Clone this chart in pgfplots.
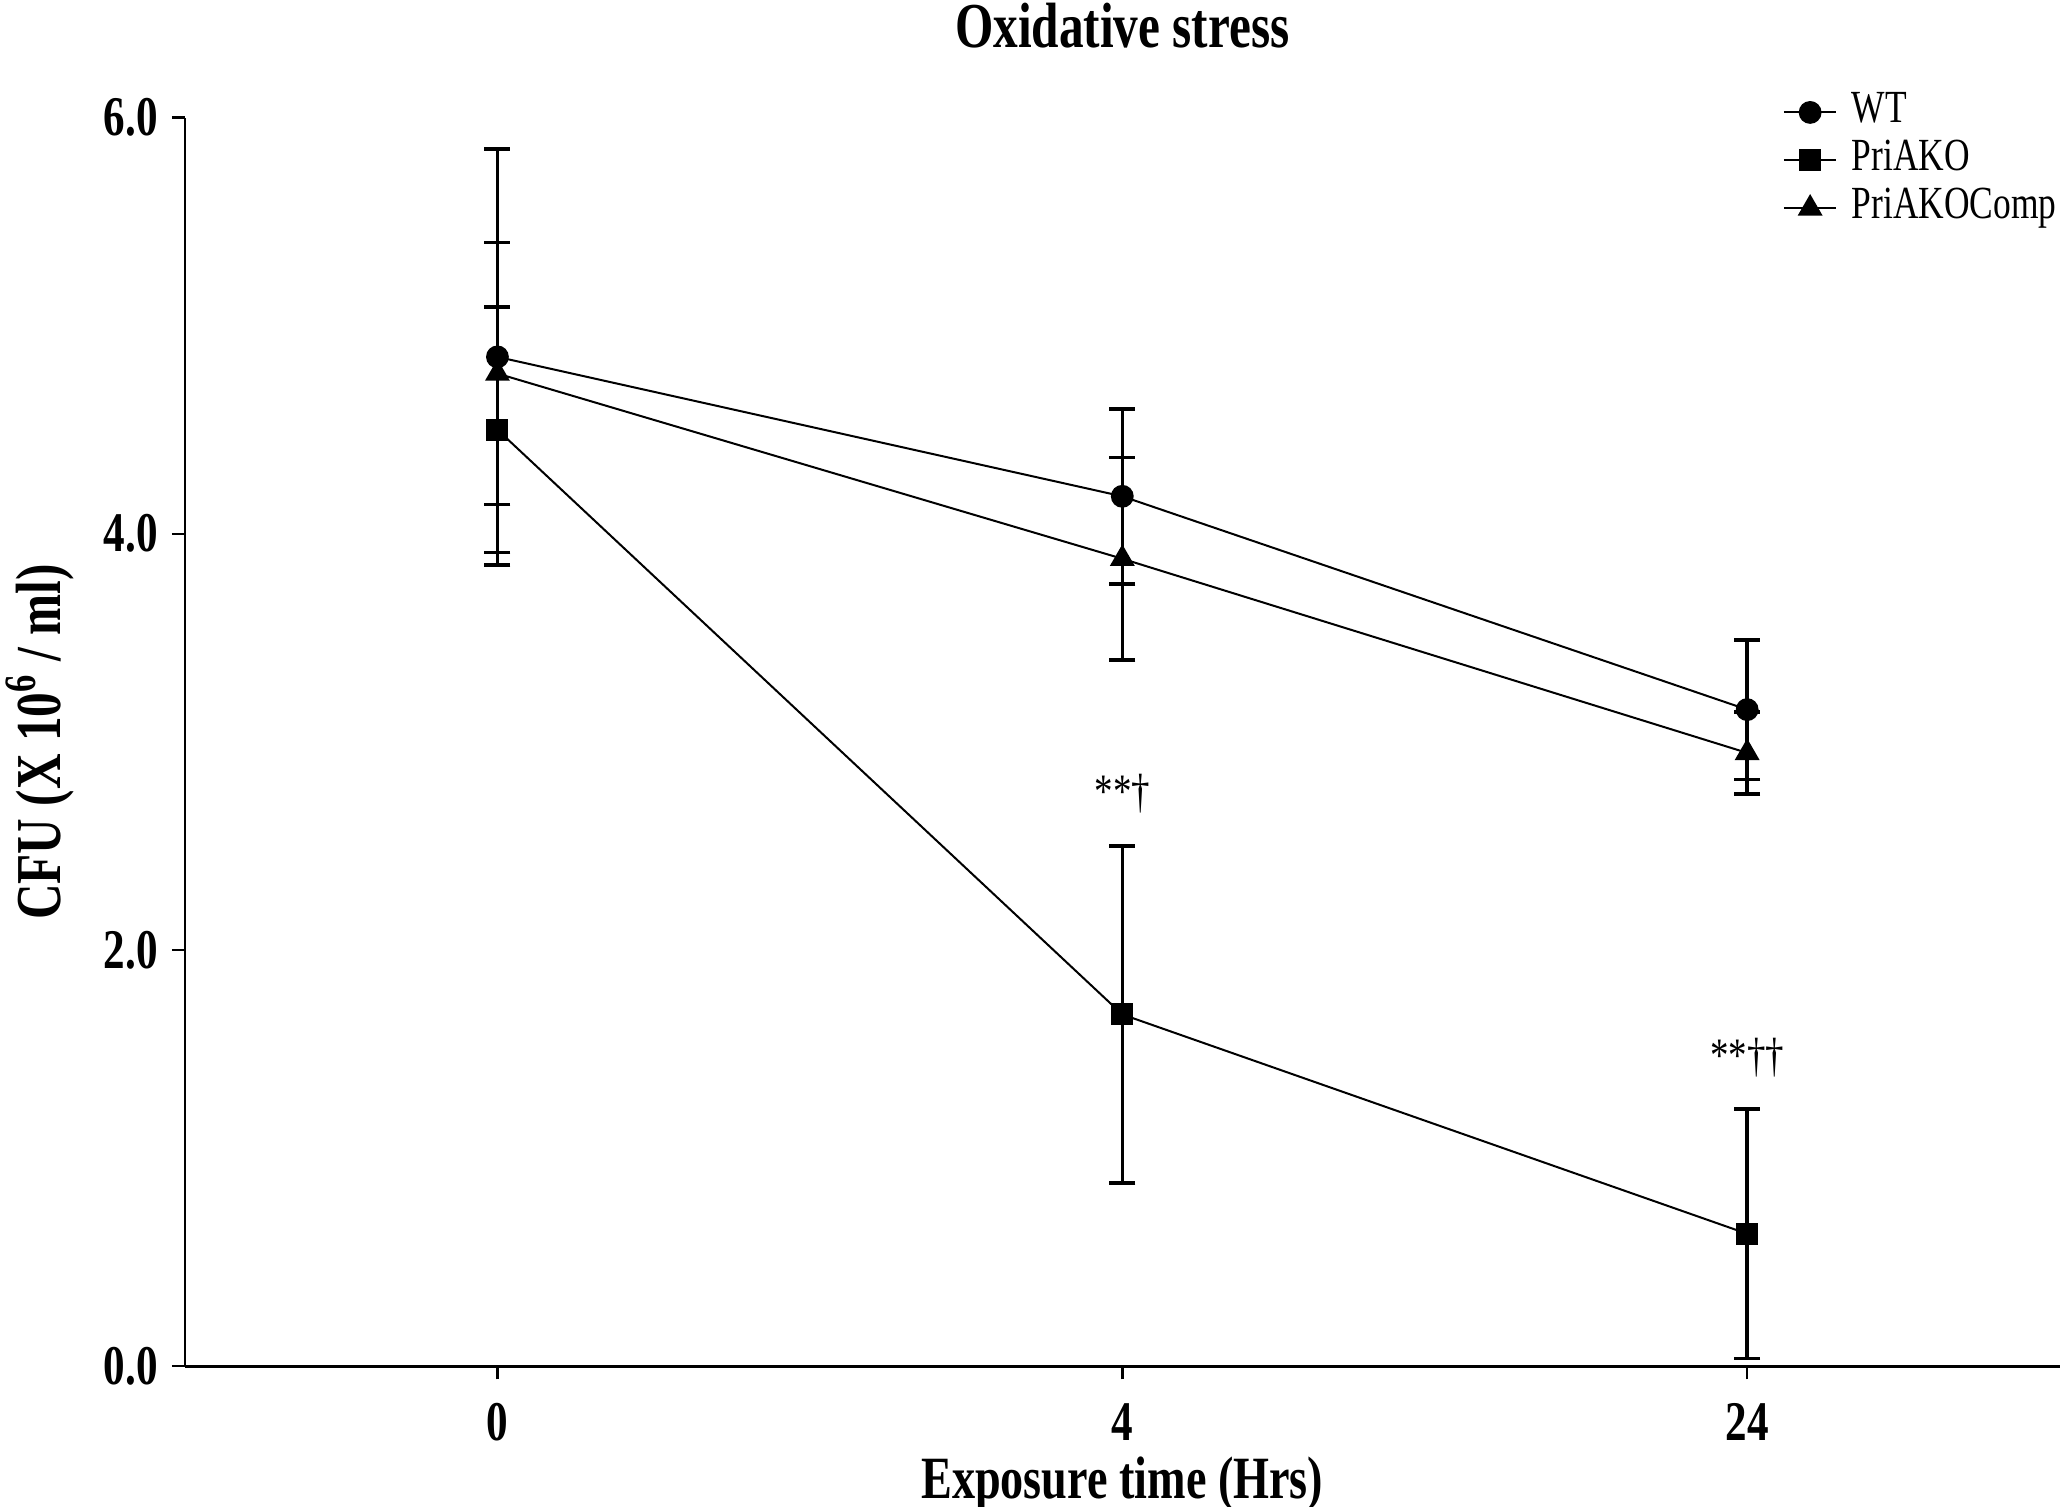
\documentclass[border=0pt]{standalone}
\usepackage{fontspec}
\setmainfont{Liberation Serif}[FakeStretch=0.77]
\usepackage{pgfplots}
\pgfplotsset{compat=1.18}
\begin{document}
\begin{tikzpicture}
\begin{axis}[
  width=468.6pt, height=312.1pt, scale only axis,
  xmin=-0.5, xmax=2.5, ymin=0, ymax=6,
  axis x line*=bottom, axis y line*=left,
  xtick={0,1,2}, xticklabels={0,4,24},
  ytick={0,2,4,6},
  tick align=outside, major tick length=3.3pt,
  tick style={black, line width=0.6pt},
  axis line style={line width=0.7pt},
  ticklabel style={font=\fontsize{14}{14}\selectfont\bfseries},
  xticklabel style={inner sep=1pt, yshift=-4.8pt},
  /pgf/number format/assume math mode=true,
  yticklabel style={/pgf/number format/.cd,fixed,fixed zerofill,precision=1},
  xlabel={Exposure time (Hrs)},
  ylabel={CFU (X 10\textsuperscript{6} / ml)},
  label style={font=\fontsize{15}{15}\selectfont\bfseries},
  xlabel style={at={(axis description cs:0.5,-0.0881)}, anchor=center, inner sep=0.5pt, yshift=-2pt},
  ylabel style={at={(axis description cs:-0.0774,0.5)}, anchor=center, rotate=0, font=\fontsize{16}{16}\selectfont\bfseries},
  title={Oxidative stress},
  title style={font=\fontsize{16}{16}\selectfont\bfseries, at={(axis description cs:0.5,1.0574)}, anchor=center, inner sep=0.5pt, yshift=-1pt},
  legend style={draw=none, fill=none, at={(0.852,1.024)}, anchor=north west,
    font=\fontsize{11.5}{11.5}\selectfont, inner sep=0pt,
    nodes={inner sep=1pt, text height=7.5pt, text depth=2.5pt}},
  legend cell align=left,
  legend image code/.code={\draw[mark repeat=2,mark phase=2] plot coordinates {(0cm,0cm) (0.23cm,0cm) (0.46cm,0cm)}; \path (0.46cm+2.6pt,0cm);},
  clip=false,
]
\coordinate (bl) at (rel axis cs:0,0);
\coordinate (tr) at (rel axis cs:1,1);

\addplot[black, line width=0.5pt, mark=*, mark size=2.6pt, mark options={solid, fill=black},
  error bars/.cd, y dir=both, y explicit,
  error bar style={line width=0.9pt},
  error mark options={rotate=90, mark size=3.25pt, line width=0.9pt}]
  coordinates {(0,4.85) +- (0,1.00) (1,4.18) +- (0,0.42) (2,3.155) +- (0,0.335)};
\addlegendentry{WT}

\addplot[black, line width=0.5pt, mark=square*, mark size=2.5pt, mark options={solid, fill=black},
  error bars/.cd, y dir=both, y explicit,
  error bar style={line width=0.9pt},
  error mark options={rotate=90, mark size=3.25pt, line width=0.9pt}]
  coordinates {(0,4.50) +- (0,0.59) (1,1.69) +- (0,0.81) (2,0.636) +- (0,0.60)};
\addlegendentry{PriAKO}

\addplot[black, line width=0.5pt, mark=triangle*, mark size=3.1pt, mark options={solid, fill=black},
  error bars/.cd, y dir=both, y explicit,
  error bar style={line width=0.9pt},
  error mark options={rotate=90, mark size=3.25pt, line width=0.9pt}]
  coordinates {(0,4.77) +- (0,0.63) (1,3.88) +- (0,0.487) (2,2.947) +- (0,0.197)};
\addlegendentry{PriAKOComp}

\node[font=\fontsize{12}{12}\selectfont] at (axis cs:1,2.75) {**†};
\node[font=\fontsize{12}{12}\selectfont] at (axis cs:2,1.48) {**††};
\end{axis}
\pgfresetboundingbox
\path ([xshift=-46.25pt,yshift=-35pt]bl) rectangle ([xshift=2.6pt,yshift=29.4pt]tr);
\end{tikzpicture}
\end{document}
